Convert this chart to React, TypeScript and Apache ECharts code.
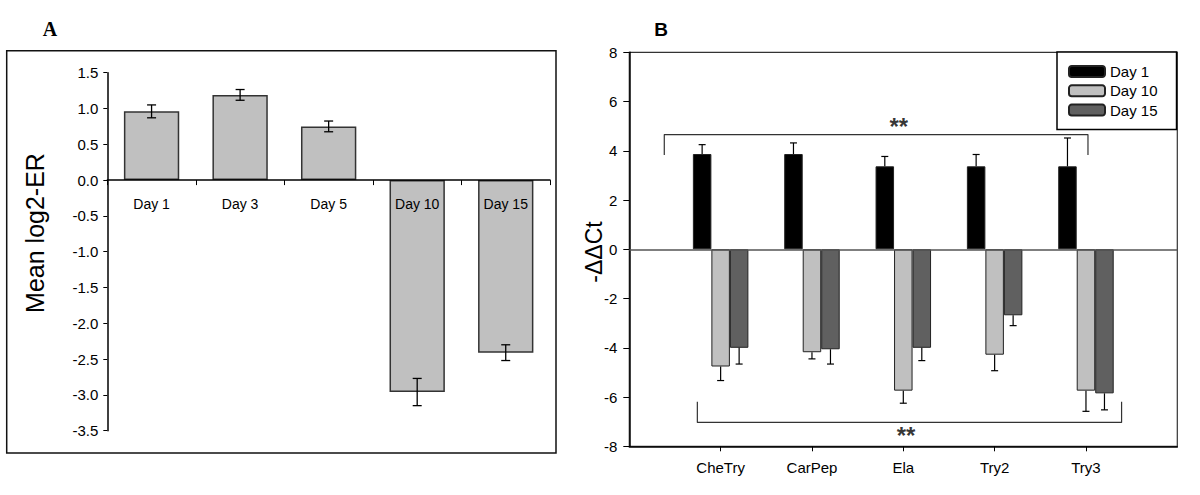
import React, { useEffect, useRef } from "react";
import * as echarts from "echarts";

// ---------- Panel A data ----------
const daysA = ["Day 1", "Day 3", "Day 5", "Day 10", "Day 15"];
const meanA = [0.96, 1.19, 0.75, -2.96, -2.41];
const errA = [0.09, 0.075, 0.075, 0.19, 0.11];
const yRangeA = [-3.5, 1.5];

// ---------- Panel B data ----------
const genesB = ["CheTry", "CarPep", "Ela", "Try2", "Try3"];
const seriesNamesB = ["Day 1", "Day 10", "Day 15"];
const day1 = [3.87, 3.87, 3.37, 3.37, 3.37];
const day1Err = [0.38, 0.45, 0.4, 0.48, 1.15];
const day10 = [-4.76, -4.18, -5.74, -4.28, -5.74];
const day10Err = [0.57, 0.27, 0.51, 0.65, 0.84];
const day15 = [-4.0, -4.06, -4.0, -2.68, -5.85];
const day15Err = [0.66, 0.6, 0.52, 0.42, 0.67];
const colorsB = ["#000000", "#c0c0c0", "#606060"];

// significance brackets (x in category-position units, y in -ΔΔCt)
const bracketTop = [[0.383, 3.83], [0.383, 4.66], [5.022, 4.66], [5.022, 3.83]];
const bracketBottom = [[0.745, -6.19], [0.745, -7.03], [5.39, -7.03], [5.39, -6.19]];
const sigMarks = [[2.95, 4.98], [3.03, -7.55]];

const FONT = "'Liberation Sans', Arial, sans-serif";

export default function App() {
  const ref = useRef<HTMLDivElement>(null);
  useEffect(() => {
    if (!ref.current) return;
    const chart = echarts.init(ref.current, undefined, { renderer: "svg" });

    const catsB = ["", ...genesB, ""];
    const valsB = [day1, day10, day15];
    const errsB = [day1Err, day10Err, day15Err];
    const barW = 18.5;

    const gridAHeight = 358;
    // place the category axis of panel A at value 0
    const zeroOffsetA = -((0 - yRangeA[0]) / (yRangeA[1] - yRangeA[0])) * gridAHeight;

    const errDataB: number[][] = [];
    valsB.forEach((vals, k) => {
      vals.forEach((v, i) => errDataB.push([i + 1, v, errsB[k][i], k]));
    });

    const option: any = {
      animation: false,
      textStyle: { fontFamily: FONT },
      graphic: [
        {
          type: "rect",
          shape: { x: 6.7, y: 50.7, width: 549.3, height: 402.3 },
          style: { fill: "none", stroke: "#111", lineWidth: 1.5 },
        },
        {
          type: "text",
          x: 50,
          y: 29,
          style: {
            text: "A",
            fontSize: 20,
            fontWeight: "bold",
            fontFamily: "'Liberation Serif', 'Times New Roman', serif",
            fill: "#000",
            align: "center",
            verticalAlign: "middle",
          },
        },
        {
          type: "text",
          x: 661,
          y: 29,
          style: {
            text: "B",
            fontSize: 19,
            fontWeight: "bold",
            fontFamily: FONT,
            fill: "#000",
            align: "center",
            verticalAlign: "middle",
          },
        },
        {
          type: "text",
          x: 35,
          y: 233,
          rotation: Math.PI / 2,
          style: {
            text: "Mean log2-ER",
            fontSize: 25,
            fontFamily: FONT,
            fill: "#000",
            align: "center",
            verticalAlign: "middle",
          },
        },
        {
          type: "text",
          x: 594,
          y: 252,
          rotation: Math.PI / 2,
          style: {
            text: "-ΔΔCt",
            fontSize: 23,
            fontFamily: FONT,
            fill: "#000",
            align: "center",
            verticalAlign: "middle",
          },
        },
      ],
      legend: {
        data: seriesNamesB,
        left: 1057,
        top: 52,
        orient: "vertical",
        selectedMode: false,
        itemWidth: 36,
        itemHeight: 11,
        itemGap: 4.3,
        itemTextGap: 9,
        padding: [12, 19, 12, 11],
        borderColor: "#000",
        borderWidth: 1.5,
        backgroundColor: "#fff",
        textStyle: { fontSize: 15, color: "#000", fontFamily: FONT },
      },
      grid: [
        { left: 107.3, top: 72.7, width: 442.7, height: gridAHeight },
        {
          left: 629.3,
          top: 52.3,
          width: 548,
          height: 394,
          show: true,
          borderColor: "#333",
          borderWidth: 1.2,
        },
      ],
      xAxis: [
        {
          type: "category",
          gridIndex: 0,
          data: daysA,
          position: "bottom",
          offset: zeroOffsetA,
          z: 5,
          axisLine: { onZero: false, lineStyle: { color: "#000", width: 1.5 } },
          axisTick: { show: true, length: 5, lineStyle: { color: "#000" } },
          axisLabel: { margin: 17, fontSize: 14, color: "#000", fontFamily: FONT },
          splitLine: { show: false },
        },
        {
          type: "category",
          gridIndex: 1,
          data: catsB,
          boundaryGap: false,
          position: "bottom",
          axisLine: { onZero: false, lineStyle: { color: "#000", width: 1.5 } },
          axisTick: {
            show: true,
            length: 5,
            interval: (i: number) => i > 0 && i < catsB.length - 1,
            lineStyle: { color: "#000" },
          },
          axisLabel: {
            margin: 14,
            fontSize: 15,
            color: "#000",
            fontFamily: FONT,
            interval: 0,
          },
          splitLine: { show: false },
        },
        {
          type: "value",
          gridIndex: 1,
          min: 0,
          max: catsB.length - 1,
          show: false,
        },
      ],
      yAxis: [
        {
          type: "value",
          gridIndex: 0,
          min: yRangeA[0],
          max: yRangeA[1],
          interval: 0.5,
          axisLine: { show: true, lineStyle: { color: "#000", width: 1.5 } },
          axisTick: { show: true, length: 4, lineStyle: { color: "#000" } },
          axisLabel: {
            margin: 9,
            fontSize: 15,
            color: "#000",
            fontFamily: FONT,
            formatter: (v: number) => v.toFixed(1),
          },
          splitLine: { show: false },
        },
        {
          type: "value",
          gridIndex: 1,
          min: -8,
          max: 8,
          interval: 2,
          axisLine: { show: true, lineStyle: { color: "#000", width: 1.5 } },
          axisTick: { show: true, length: 6, lineStyle: { color: "#000" } },
          axisLabel: { margin: 12, fontSize: 15, color: "#000", fontFamily: FONT },
          splitLine: { show: false },
        },
      ],
      series: [
        {
          type: "bar",
          name: "A",
          xAxisIndex: 0,
          yAxisIndex: 0,
          data: meanA,
          barWidth: "62.5%",
          itemStyle: { color: "#c0c0c0", borderColor: "#333", borderWidth: 1.5 },
        },
        {
          type: "custom",
          xAxisIndex: 0,
          yAxisIndex: 0,
          z: 6,
          data: meanA.map((m, i) => [i, m, errA[i]]),
          renderItem: (_p: any, api: any) => {
            const x = api.value(0);
            const m = api.value(1);
            const e = api.value(2);
            const top = api.coord([x, m + e]);
            const bot = api.coord([x, m - e]);
            const cx = top[0];
            const style = { stroke: "#000", lineWidth: 1.3 };
            return {
              type: "group",
              children: [
                { type: "line", shape: { x1: cx, y1: top[1], x2: cx, y2: bot[1] }, style },
                { type: "line", shape: { x1: cx - 4.5, y1: top[1], x2: cx + 4.5, y2: top[1] }, style },
                { type: "line", shape: { x1: cx - 4.5, y1: bot[1], x2: cx + 4.5, y2: bot[1] }, style },
              ],
            };
          },
        },
        ...seriesNamesB.map((name, k) => ({
          type: "bar",
          name,
          xAxisIndex: 1,
          yAxisIndex: 1,
          data: ["-", ...valsB[k], "-"],
          barWidth: barW,
          barGap: "0%",
          itemStyle: { color: colorsB[k], borderColor: "#222", borderWidth: 1 },
          markLine:
            k === 0
              ? {
                  silent: true,
                  symbol: ["none", "none"],
                  label: { show: false },
                  lineStyle: { color: "#555", width: 1.5, type: "solid" },
                  data: [{ yAxis: 0 }],
                }
              : undefined,
        })),
        {
          type: "custom",
          xAxisIndex: 1,
          yAxisIndex: 1,
          z: 6,
          data: errDataB,
          renderItem: (_p: any, api: any) => {
            const x = api.value(0);
            const v = api.value(1);
            const e = api.value(2);
            const k = api.value(3);
            const sign = v >= 0 ? 1 : -1;
            const a = api.coord([x, v]);
            const b = api.coord([x, v + sign * e]);
            const cx = a[0] + (k - 1) * barW;
            const style = { stroke: "#000", lineWidth: 1.2 };
            return {
              type: "group",
              children: [
                { type: "line", shape: { x1: cx, y1: a[1], x2: cx, y2: b[1] }, style },
                { type: "line", shape: { x1: cx - 3.5, y1: b[1], x2: cx + 3.5, y2: b[1] }, style },
              ],
            };
          },
        },
        {
          type: "line",
          xAxisIndex: 2,
          yAxisIndex: 1,
          data: bracketTop,
          symbol: "none",
          lineStyle: { color: "#333", width: 1.2 },
          z: 4,
        },
        {
          type: "line",
          xAxisIndex: 2,
          yAxisIndex: 1,
          data: bracketBottom,
          symbol: "none",
          lineStyle: { color: "#333", width: 1.2 },
          z: 4,
        },
        {
          type: "scatter",
          xAxisIndex: 2,
          yAxisIndex: 1,
          data: sigMarks,
          symbolSize: 0.1,
          itemStyle: { color: "rgba(0,0,0,0)" },
          label: {
            show: true,
            position: "inside",
            formatter: "**",
            fontSize: 24,
            fontWeight: "bold",
            color: "#000",
            fontFamily: FONT,
          },
          z: 6,
        },
      ],
    };
    chart.setOption(option);
    return () => chart.dispose();
  }, []);

  return (
    <div
      ref={ref}
      style={{ position: "fixed", left: 0, top: 0, width: 1200, height: 495, background: "#fff" }}
    />
  );
}
